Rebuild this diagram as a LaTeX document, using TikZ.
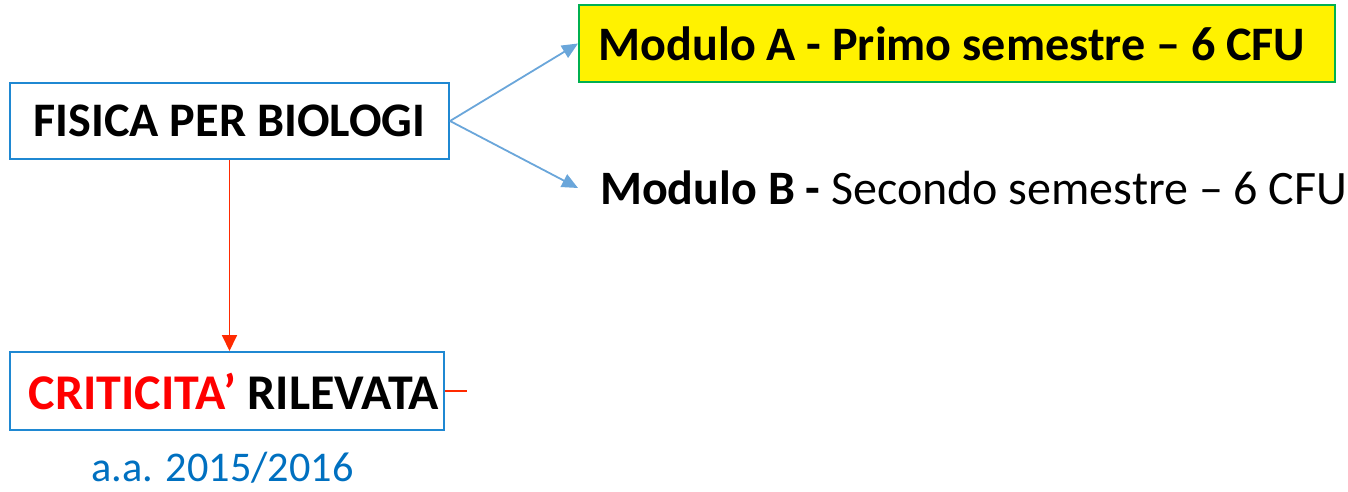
\documentclass[tikz,border=0pt]{standalone}
\usepackage{fontspec}
\setmainfont{Carlito}
\usetikzlibrary{arrows.meta}
\definecolor{boxblue}{HTML}{1F88D2}
\definecolor{arrblue}{HTML}{6AA6DA}
\definecolor{arrred}{HTML}{FF2A00}
\definecolor{okgreen}{HTML}{00B050}
\definecolor{txtred}{HTML}{FF0000}
\definecolor{yearblue}{HTML}{0070C0}
\begin{document}
\begin{tikzpicture}[x=1pt,y=-1pt,
  mainbox/.style={draw=boxblue,line width=2pt,inner sep=0pt,font=\fontsize{48.2}{56}\selectfont\bfseries},
  modbox/.style={draw=okgreen,fill=yellow,line width=2pt,inner sep=0pt,font=\fontsize{48.1}{56}\selectfont\bfseries},
  bluearrow/.style={draw=arrblue,line width=1.8pt,-{Triangle[length=16pt,width=14pt]}},
  redarrow/.style={draw=arrred,line width=1.8pt,-{Triangle[length=16pt,width=15pt]}},
  redline/.style={draw=arrred,line width=1.8pt}]
\useasboundingbox (0,0) rectangle (1348,491);
\node[mainbox,minimum width=439pt,minimum height=76pt] (fis) at (229.5,121) {FISICA PER BIOLOGI};
\node[modbox,minimum width=756pt,minimum height=77pt] (moda) at (957,43.5) {Modulo A - Primo semestre – 6 CFU\hspace*{10pt}};
\node[anchor=west,inner xsep=22pt,inner ysep=0pt,font=\fontsize{48}{56}\selectfont] (modb) at (578,188) {\textbf{Modulo B -} Secondo semestre – 6 CFU};
\node[mainbox,minimum width=434pt,minimum height=78pt,font=\fontsize{50}{56}\selectfont\bfseries] (crit) at (227,391) {\hspace*{14pt}\textcolor{txtred}{CRITICITA’} RILEVATA};
\node[font=\fontsize{42.3}{48}\selectfont,text=yearblue,anchor=base] (year) at (222.5,481) {a.a. 2015/2016};
\coordinate (critend) at (467,391);
\draw[bluearrow] (fis.east) -- (moda.west);
\draw[bluearrow] (fis.east) -- (modb.west);
\draw[redarrow] (fis.south) -- (fis.south |- crit.north);
\draw[redline] (crit.east) -- (critend);
\end{tikzpicture}
\end{document}
